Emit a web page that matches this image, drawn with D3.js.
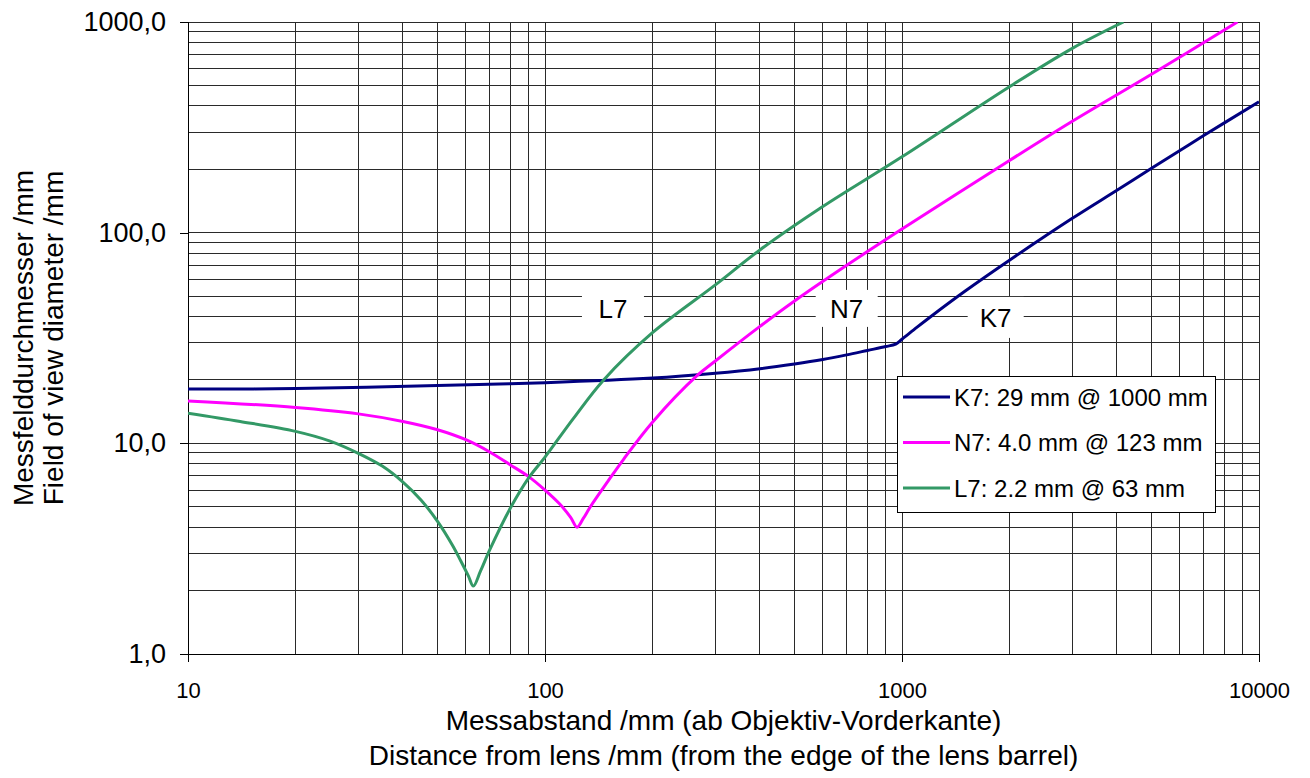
<!DOCTYPE html>
<html>
<head>
<meta charset="utf-8">
<script src="https://cdn.jsdelivr.net/npm/d3@7/dist/d3.min.js"></script>
<style>
  html, body { margin: 0; padding: 0; background: #fff; }
  svg { display: block; font-family: "Liberation Sans", Arial, sans-serif; }
</style>
</head>
<body>
<svg id="chart" width="1310" height="778"></svg>
<script>
// ---------- data ----------
const seriesNames = ["K7", "N7", "L7"];
const legendLabels = ["K7: 29 mm @ 1000 mm", "N7: 4.0 mm @ 123 mm", "L7: 2.2 mm @ 63 mm"];

const distK7 = [10, 20, 50, 100, 200, 300, 400, 500, 600, 700, 800, 900, 960, 1000, 1100, 1200, 1500, 2000, 3000, 4000, 5000, 7000, 10000];
const diamK7 = [18.1, 18.2, 18.8, 19.4, 20.4, 21.5, 22.6, 23.8, 25.0, 26.3, 27.6, 28.8, 29.6, 31.2, 35.5, 39.8, 52.7, 74, 117, 159, 202, 289, 418];

const distN7 = [10, 20, 30, 40, 50, 60, 70, 80, 90, 100, 110, 118, 123, 128, 134, 150, 166, 200, 267, 300, 400, 500, 700, 1000, 2000, 3000, 5000, 8700];
const diamN7 = [15.9, 14.8, 13.8, 12.7, 11.6, 10.4, 9.1, 7.9, 6.95, 6.0, 5.15, 4.45, 4.0, 4.4, 5.0, 6.6, 8.4, 12.6, 21.0, 24.6, 35.9, 47.4, 70, 104, 220, 338, 565, 1000];

const distL7 = [10, 14, 20, 25, 30, 35, 40, 45, 50, 55, 58, 61, 63, 66, 70, 80, 90, 100, 120, 146, 200, 300, 400, 600, 1000, 2000, 3000, 4170];
const diamL7 = [13.9, 12.7, 11.4, 10.25, 8.97, 7.8, 6.55, 5.37, 4.26, 3.29, 2.78, 2.35, 2.1, 2.48, 3.12, 4.93, 6.85, 8.6, 13.1, 20.0, 33.5, 56.5, 82.8, 133, 229, 493, 750, 1000];

const xTicks = [10, 100, 1000, 10000];
const xTickLabels = ["10", "100", "1000", "10000"];
const yTicks = [1, 10, 100, 1000];
const yTickLabels = ["1,0", "10,0", "100,0", "1000,0"];

// in-plot series label anchors (data coordinates)
const labelDist = [1830, 700, 155];
const labelDiam = [39.6, 43.7, 43.7];

const xTitle = ["Messabstand /mm (ab Objektiv-Vorderkante)", "Distance from lens /mm (from the edge of the lens barrel)"];
const yTitle = ["Messfelddurchmesser /mm", "Field of view diameter /mm"];

// ---------- layout / style ----------
const colors = { K7: "#000080", N7: "#FF00FF", L7: "#339966" };
const plot = { left: 188, right: 1259, top: 22, bottom: 654 };

const svg = d3.select("#chart");
const x = d3.scaleLog().domain([10, 10000]).range([plot.left, plot.right]);
const y = d3.scaleLog().domain([1, 1000]).range([plot.bottom, plot.top]);

// grid values (1..9 per decade)
const xGrid = [];
for (let e = 1; e < 4; e++) for (let k = 1; k < 10; k++) xGrid.push(k * Math.pow(10, e));
xGrid.push(10000);
const yGrid = [];
for (let e = 0; e < 3; e++) for (let k = 1; k < 10; k++) yGrid.push(k * Math.pow(10, e));
yGrid.push(1000);

const grid = svg.append("g").attr("shape-rendering", "crispEdges");
grid.selectAll("line.gx").data(xGrid).join("line")
  .attr("x1", d => x(d)).attr("x2", d => x(d))
  .attr("y1", plot.top).attr("y2", plot.bottom)
  .attr("stroke", "#2a2a2a").attr("stroke-width", 1);
grid.selectAll("line.gy").data(yGrid).join("line")
  .attr("x1", plot.left).attr("x2", plot.right)
  .attr("y1", d => y(d)).attr("y2", d => y(d))
  .attr("stroke", "#2a2a2a").attr("stroke-width", 1);

// axes
const yAxis = d3.axisLeft(y).tickValues(yTicks).tickSize(8).tickFormat((d, i) => yTickLabels[i]).tickPadding(14);
const gy = svg.append("g").attr("transform", `translate(${plot.left},0)`).call(yAxis);
gy.select(".domain").attr("stroke", "#000").attr("shape-rendering", "crispEdges");
gy.selectAll(".tick line").attr("stroke", "#000").attr("shape-rendering", "crispEdges");
gy.selectAll(".tick text").attr("font-size", 27).attr("font-family", "Liberation Sans, Arial, sans-serif").attr("fill", "#000");

const xAxis = d3.axisBottom(x).tickValues(xTicks).tickSize(8).tickFormat((d, i) => xTickLabels[i]).tickPadding(20);
const gx = svg.append("g").attr("transform", `translate(0,${plot.bottom})`).call(xAxis);
gx.select(".domain").attr("stroke", "#000").attr("shape-rendering", "crispEdges");
gx.selectAll(".tick line").attr("stroke", "#000").attr("shape-rendering", "crispEdges");
gx.selectAll(".tick text").attr("font-size", 22).attr("font-family", "Liberation Sans, Arial, sans-serif").attr("fill", "#000");

// clip
svg.append("clipPath").attr("id", "clip").append("rect")
  .attr("x", plot.left).attr("y", plot.top)
  .attr("width", plot.right - plot.left).attr("height", plot.bottom - plot.top);

const series = [
  { name: "K7", dist: distK7, diam: diamK7 },
  { name: "N7", dist: distN7, diam: diamN7 },
  { name: "L7", dist: distL7, diam: diamL7 }
];

const line = d3.line()
  .x(d => x(d[0])).y(d => y(d[1]))
  .curve(d3.curveCatmullRom.alpha(0.5));

// series labels with white boxes
const lbl = svg.append("g");
seriesNames.forEach((n, i) => {
  const cx = x(labelDist[i]), cy = y(labelDiam[i]);
  const boxW = n === "K7" ? 56 : 62, boxH = n === "K7" ? 41 : 37;
  lbl.append("rect").attr("x", cx - boxW / 2).attr("y", cy - boxH / 2)
    .attr("width", boxW).attr("height", boxH).attr("fill", "#fff");
  lbl.append("text").attr("x", cx).attr("y", cy)
    .attr("dy", "0.36em").attr("text-anchor", "middle")
    .attr("font-size", 26).attr("fill", "#000").text(n);
});

const lines = svg.append("g").attr("clip-path", "url(#clip)");
series.forEach(s => {
  const pts = s.dist.map((d, i) => [d, s.diam[i]]);
  lines.append("path").datum(pts)
    .attr("d", line)
    .attr("fill", "none")
    .attr("stroke", colors[s.name])
    .attr("stroke-width", 3)
    .attr("stroke-linejoin", "round");
});

// legend
const lg = svg.append("g");
const lgBox = { x: 897, y: 376, w: 318, h: 136 };
lg.append("rect").attr("x", lgBox.x + 0.5).attr("y", lgBox.y + 0.5)
  .attr("width", lgBox.w).attr("height", lgBox.h)
  .attr("fill", "#fff").attr("stroke", "#000").attr("stroke-width", 1);
seriesNames.forEach((n, i) => {
  const ly = lgBox.y + 21 + i * 45.5;
  lg.append("line").attr("x1", lgBox.x + 6).attr("x2", lgBox.x + 53)
    .attr("y1", ly).attr("y2", ly)
    .attr("stroke", colors[n]).attr("stroke-width", 3);
  lg.append("text").attr("x", lgBox.x + 57).attr("y", ly)
    .attr("dy", "0.36em").attr("font-size", 24).attr("fill", "#000")
    .attr("xml:space", "preserve")
    .text(legendLabels[i]);
});

// axis titles
const cxPlot = (plot.left + plot.right) / 2;
svg.append("text").attr("x", cxPlot).attr("y", 730).attr("text-anchor", "middle")
  .attr("font-size", 28).attr("fill", "#000").text(xTitle[0]);
svg.append("text").attr("x", cxPlot).attr("y", 765).attr("text-anchor", "middle")
  .attr("font-size", 28).attr("fill", "#000").text(xTitle[1]);

const cyPlot = (plot.top + plot.bottom) / 2;
svg.append("text").attr("transform", `translate(33,${cyPlot}) rotate(-90)`)
  .attr("text-anchor", "middle").attr("font-size", 28).attr("fill", "#000").text(yTitle[0]);
svg.append("text").attr("transform", `translate(63,${cyPlot}) rotate(-90)`)
  .attr("text-anchor", "middle").attr("font-size", 28).attr("fill", "#000").text(yTitle[1]);
</script>
</body>
</html>
